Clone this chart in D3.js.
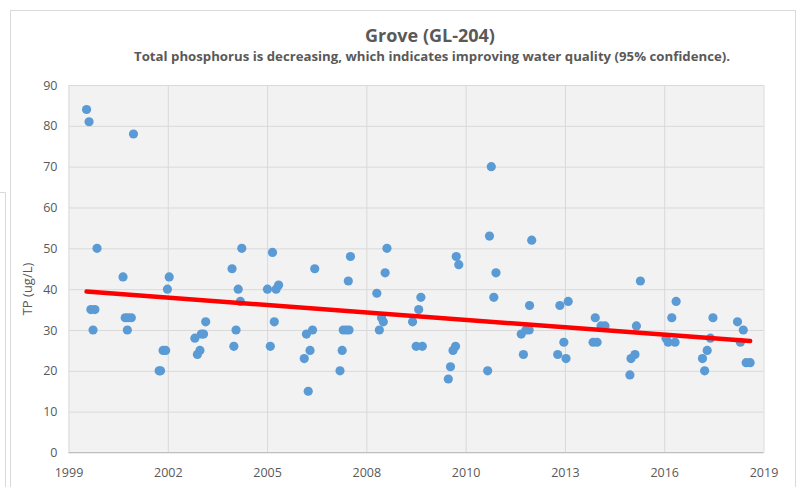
<!DOCTYPE html>
<html>
<head>
<meta charset="utf-8">
<script src="https://cdn.jsdelivr.net/npm/d3@7"></script>
<style>
  body { margin: 0; background: #fff; }
  text { font-family: "Open Sans", "Noto Sans", sans-serif; fill: #595959; }
</style>
</head>
<body>
<div id="chart"></div>
<script>
// Sample dates (decimal years) and total phosphorus values (ug/L)
const sampleDates = [
    2000.33, 2000.40, 2000.45, 2000.51, 2000.56, 2000.62,
    2001.34, 2001.40, 2001.46, 2001.48, 2001.57, 2001.63,
    2002.34, 2002.38, 2002.45, 2002.52, 2002.57, 2002.62,
    2003.33, 2003.40, 2003.47, 2003.51, 2003.57, 2003.63,
    2004.36, 2004.41, 2004.47, 2004.53, 2004.59, 2004.63,
    2005.34, 2005.42, 2005.48, 2005.53, 2005.58, 2005.65,
    2006.36, 2006.42, 2006.47, 2006.52, 2006.59, 2006.65,
    2007.35, 2007.41, 2007.44, 2007.52, 2007.58, 2007.60, 2007.64,
    2008.37, 2008.44, 2008.50, 2008.55, 2008.60, 2008.65,
    2009.36, 2009.46, 2009.53, 2009.59, 2009.63,
    2010.35, 2010.41, 2010.48, 2010.55, 2010.57, 2010.64,
    2011.44, 2011.49, 2011.54, 2011.61, 2011.67,
    2012.37, 2012.43, 2012.50, 2012.59, 2012.60, 2012.66,
    2013.38, 2013.44, 2013.55, 2013.61, 2013.67,
    2014.36, 2014.42, 2014.47, 2014.58, 2014.69,
    2015.38, 2015.41, 2015.52, 2015.56, 2015.67,
    2016.38, 2016.44, 2016.54, 2016.63, 2016.66,
    2017.39, 2017.45, 2017.52, 2017.61, 2017.68,
    2018.36, 2018.44, 2018.52, 2018.60, 2018.71
];
const tpValues = [
    84, 81, 35, 30, 35, 50,
    43, 33, 30, 33, 33, 78,
    20, 20, 25, 25, 40, 43,
    28, 24, 25, 29, 29, 32,
    45, 26, 30, 40, 37, 50,
    40, 26, 49, 32, 40, 41,
    23, 29, 15, 25, 30, 45,
    20, 25, 30, 30, 42, 30, 48,
    39, 30, 33, 32, 44, 50,
    32, 26, 35, 38, 26,
    18, 21, 25, 26, 48, 46,
    20, 53, 70, 38, 44,
    29, 24, 30, 30, 36, 52,
    24, 36, 27, 23, 37,
    27, 33, 27, 31, 31,
    19, 23, 24, 31, 42,
    28, 27, 33, 27, 37,
    23, 20, 25, 28, 33,
    32, 27, 30, 22, 22
];

// Linear trend end points
const trendDates = [2000.33, 2018.71];
const trendValues = [39.4, 27.3];

// Axis ticks
const yTicks = [0, 10, 20, 30, 40, 50, 60, 70, 80, 90];
const xTickPos = [1999.83, 2002.58, 2005.33, 2008.08, 2010.83, 2013.58, 2016.33, 2019.08];
const xTickLabels = ['1999', '2002', '2005', '2008', '2010', '2013', '2016', '2019'];

const width = 800;
const height = 487;
const plot = { left: 68.5, right: 763.5, top: 85, bottom: 452.5 };

const svg = d3.select('#chart')
    .append('svg')
    .attr('width', width)
    .attr('height', height);

// Outer frame of the chart
svg.append('rect')
    .attr('x', 10.5).attr('y', 10.5)
    .attr('width', 785).attr('height', 490)
    .attr('fill', '#fff')
    .attr('stroke', '#d9d9d9');

svg.append('path')
    .attr('d', 'M0,192.5H5.5V487')
    .attr('fill', 'none')
    .attr('stroke', '#d9d9d9');

// Titles
svg.append('text')
    .attr('x', 430).attr('y', 42)
    .attr('text-anchor', 'middle')
    .style('font-size', '18px')
    .style('font-weight', 'bold')
    .text('Grove (GL-204)');

svg.append('text')
    .attr('x', 432).attr('y', 61)
    .attr('text-anchor', 'middle')
    .attr('textLength', 596)
    .attr('lengthAdjust', 'spacingAndGlyphs')
    .style('font-size', '12.5px')
    .style('font-weight', 'bold')
    .text('Total phosphorus is decreasing, which indicates improving water quality (95% confidence).');

// Scales
const x = d3.scaleLinear()
    .domain([xTickPos[0], xTickPos[xTickPos.length - 1]])
    .range([plot.left, plot.right]);

const y = d3.scaleLinear()
    .domain([0, 90])
    .range([plot.bottom, plot.top]);

// Plot area background
svg.append('rect')
    .attr('x', plot.left).attr('y', plot.top)
    .attr('width', plot.right - plot.left)
    .attr('height', plot.bottom - plot.top)
    .attr('fill', '#f2f2f2');

// Y axis with horizontal gridlines
const yAxis = svg.append('g')
    .attr('transform', `translate(${plot.left},0)`)
    .call(d3.axisLeft(y)
        .tickValues(yTicks)
        .tickSize(-(plot.right - plot.left))
        .tickPadding(11));

// X axis with vertical gridlines
const xAxis = svg.append('g')
    .attr('transform', `translate(0,${plot.bottom})`)
    .call(d3.axisBottom(x)
        .tickValues(xTickPos)
        .tickFormat((d, i) => xTickLabels[i])
        .tickSize(-(plot.bottom - plot.top))
        .tickPadding(16));

[yAxis, xAxis].forEach(ax => {
    ax.select('.domain').remove();
    ax.selectAll('line').attr('stroke', '#d9d9d9');
    ax.selectAll('text')
        .attr('fill', '#595959')
        .style('font-size', '12.5px');
});

// Bottom axis line
svg.append('line')
    .attr('x1', plot.left).attr('x2', plot.right)
    .attr('y1', plot.bottom).attr('y2', plot.bottom)
    .attr('stroke', '#bfbfbf');

// Y axis title
svg.append('text')
    .attr('transform', 'translate(32,289) rotate(-90)')
    .attr('text-anchor', 'middle')
    .style('font-size', '13px')
    .text('TP (ug/L)');

// Sample points
svg.append('g')
    .selectAll('circle')
    .data(sampleDates.map((d, i) => ({ date: d, tp: tpValues[i] })))
    .enter()
    .append('circle')
    .attr('cx', d => x(d.date))
    .attr('cy', d => y(d.tp))
    .attr('r', 4.6)
    .attr('fill', '#5b9bd5');

// Trend line
svg.append('path')
    .datum(trendDates.map((d, i) => [d, trendValues[i]]))
    .attr('d', d3.line().x(d => x(d[0])).y(d => y(d[1])))
    .attr('fill', 'none')
    .attr('stroke', '#ff0000')
    .attr('stroke-width', 4.5)
    .attr('stroke-linecap', 'round');
</script>
</body>
</html>
